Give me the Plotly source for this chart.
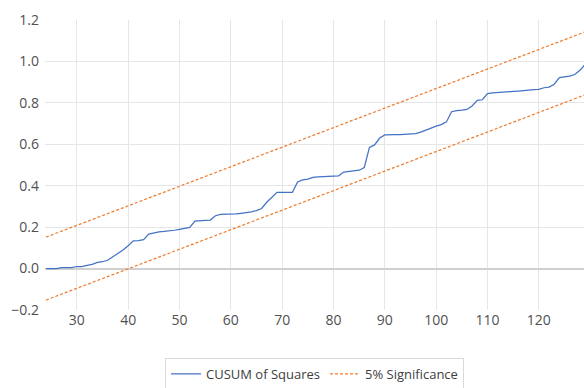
import plotly.graph_objects as go

obs = list(range(24, 131))
cusum_sq = [
    0.0, 0.0, 0.0, 0.004, 0.004, 0.005, 0.01, 0.01, 0.015, 0.02,      # 24-33
    0.03, 0.033, 0.04, 0.057, 0.07, 0.09, 0.11, 0.134, 0.135, 0.14,   # 34-43
    0.166, 0.172, 0.177, 0.179, 0.181, 0.185, 0.189, 0.193, 0.199, 0.229,  # 44-53
    0.232, 0.233, 0.234, 0.255, 0.262, 0.262, 0.262, 0.264, 0.267, 0.27,   # 54-63
    0.274, 0.28, 0.29, 0.32, 0.345, 0.368, 0.368, 0.368, 0.368, 0.418,     # 64-73
    0.428, 0.432, 0.44, 0.443, 0.444, 0.444, 0.446, 0.448, 0.466, 0.468,   # 74-83
    0.472, 0.475, 0.488, 0.585, 0.597, 0.63, 0.645, 0.647, 0.647, 0.647,   # 84-93
    0.648, 0.649, 0.652, 0.659, 0.67, 0.68, 0.688, 0.695, 0.708, 0.757,    # 94-103
    0.763, 0.765, 0.768, 0.785, 0.812, 0.815, 0.845, 0.848, 0.849, 0.851,  # 104-113
    0.853, 0.855, 0.857, 0.86, 0.862, 0.864, 0.865, 0.873, 0.876, 0.89,    # 114-123
    0.922, 0.926, 0.929, 0.937, 0.957, 0.985, 1.0,                          # 124-130
]

bound_x = [24, 130]
upper_bound = [0.152, 1.152]
lower_bound = [-0.152, 0.848]

x_ticks = [30, 40, 50, 60, 70, 80, 90, 100, 110, 120]
y_ticks = [-0.2, 0.0, 0.2, 0.4, 0.6, 0.8, 1.0, 1.2]

blue = "#4472C4"
orange = "#ED7D31"

fig = go.Figure()
fig.add_trace(go.Scatter(x=obs, y=cusum_sq, mode="lines", name="CUSUM of Squares",
                         line=dict(color=blue, width=1.25)))
fig.add_trace(go.Scatter(x=bound_x, y=upper_bound, mode="lines", name="5% Significance",
                         line=dict(color=orange, width=1.25, dash="3px,2px")))
fig.add_trace(go.Scatter(x=bound_x, y=lower_bound, mode="lines", name="5% Significance",
                         showlegend=False,
                         line=dict(color=orange, width=1.25, dash="3px,2px")))

fig.update_layout(
    width=584, height=388,
    margin=dict(l=45, r=0, t=20, b=78, autoexpand=False),
    plot_bgcolor="white", paper_bgcolor="white",
    font=dict(family="Open Sans", size=14, color="#505050"),
    showlegend=True,
    legend=dict(orientation="h", x=0.5, xanchor="center", y=-0.165, yanchor="top",
                bordercolor="#D9D9D9", borderwidth=1, font=dict(size=13, color="#404040"),
                itemwidth=30),
)
fig.update_xaxes(range=[23.8, 128.8], tickvals=x_ticks, showgrid=True, gridcolor="#E6E6E6",
                 gridwidth=1, zeroline=False, showline=False, ticks="", tickfont=dict(size=14))
fig.update_yaxes(range=[-0.2, 1.2], tickvals=y_ticks, tickformat=".1f", showgrid=True,
                 gridcolor="#E6E6E6", gridwidth=1, zeroline=True, zerolinecolor="#D0D0D0",
                 zerolinewidth=2, showline=False, ticks="", tickfont=dict(size=14),
                 ticklabelstandoff=5)

fig.write_html("out.html", config={"displayModeBar": False},
               post_script="document.body.style.margin='0';")
